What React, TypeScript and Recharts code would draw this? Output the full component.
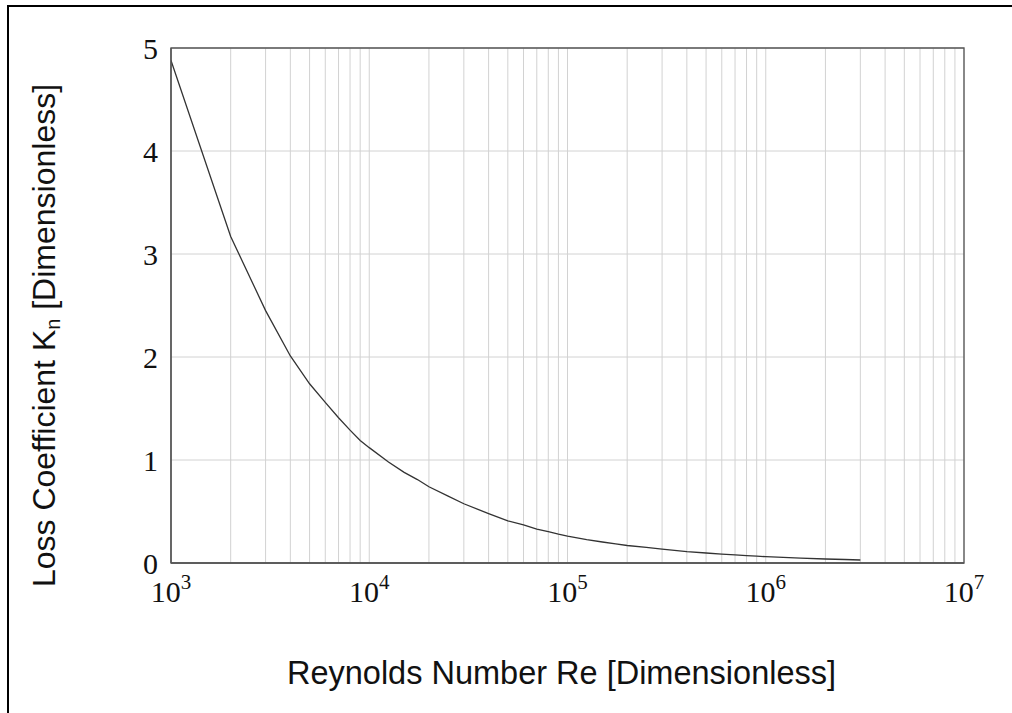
import React from 'react';
import { LineChart, Line, XAxis, YAxis, CartesianGrid, ReferenceArea } from 'recharts';

// Reynolds number samples and the loss coefficient
const reynolds = [
  1000, 2000, 3000, 4000, 5000, 6000, 7000, 8000, 9000,
  10000, 12500, 15000, 17500, 20000, 25000, 30000, 40000, 50000, 60000, 70000, 80000, 90000,
  100000, 125000, 150000, 175000, 200000, 250000, 300000, 400000, 500000, 600000, 700000, 800000, 900000,
  1000000, 1500000, 2000000, 2500000, 3000000,
];
const lossK = [
  4.88, 3.17, 2.45, 2.01, 1.74, 1.56, 1.41, 1.29, 1.19,
  1.12, 0.98, 0.88, 0.81, 0.74, 0.65, 0.575, 0.48, 0.41, 0.37, 0.33, 0.305, 0.28,
  0.26, 0.227, 0.204, 0.186, 0.17, 0.151, 0.135, 0.11, 0.097, 0.087, 0.079, 0.072, 0.066,
  0.061, 0.048, 0.039, 0.034, 0.029,
];

// log grid: every integer multiple in each decade
const xTicks = [
  1000, 2000, 3000, 4000, 5000, 6000, 7000, 8000, 9000,
  10000, 20000, 30000, 40000, 50000, 60000, 70000, 80000, 90000,
  100000, 200000, 300000, 400000, 500000, 600000, 700000, 800000, 900000,
  1000000, 2000000, 3000000, 4000000, 5000000, 6000000, 7000000, 8000000, 9000000,
  10000000,
];
const yTicks = [0, 1, 2, 3, 4, 5];

const data = reynolds.map((re, i) => ({ re, k: lossK[i] }));

const SERIF = '"Liberation Serif", "DejaVu Serif", serif';
const SANS = '"Liberation Sans", Arial, sans-serif';

const XTick = (props: any) => {
  const { x, y, payload } = props;
  const exp = Math.log10(payload.value);
  if (Math.abs(exp - Math.round(exp)) > 1e-6) return <g />;
  return (
    <text x={x} y={y + 39} textAnchor="middle" fontFamily={SERIF} fontSize={30} fill="#111">
      10
      <tspan dy={-13} fontSize={21}>
        {Math.round(exp)}
      </tspan>
    </text>
  );
};

const XLabel = (props: any) => {
  const vb = props.viewBox;
  return (
    <text
      x={vb.x + vb.width / 2 - 6}
      y={vb.y + 121}
      textAnchor="middle"
      fontFamily={SANS}
      fontSize={32.5}
      fill="#111"
    >
      Reynolds Number Re [Dimensionless]
    </text>
  );
};

const YLabel = (props: any) => {
  const vb = props.viewBox;
  const bx = vb.x - 56;
  const cy = vb.y + vb.height / 2 + 30;
  return (
    <text
      x={bx}
      y={cy}
      transform={`rotate(-90 ${bx} ${cy})`}
      textAnchor="middle"
      fontFamily={SANS}
      fontSize={32}
      fill="#111"
    >
      Loss Coefficient K
      <tspan fontSize={20} dy={5}>
        n
      </tspan>
      <tspan dy={-5}> [Dimensionless]</tspan>
    </text>
  );
};

export default function App() {
  return (
    <div style={{ position: 'absolute', left: 0, top: 0, width: 1012, height: 713, background: '#fff' }}>
      <div
        style={{
          position: 'absolute',
          left: 7,
          top: 5,
          width: 1005,
          height: 708,
          borderLeft: '2px solid #000',
          borderTop: '2px solid #000',
          boxSizing: 'border-box',
        }}
      />
      <div style={{ position: 'absolute', left: 0, top: 0 }}>
        <LineChart width={1012} height={713} data={data} margin={{ top: 48, right: 48, bottom: 90, left: 111 }}>
          <CartesianGrid stroke="#d2d2d2" strokeWidth={1} />
          <XAxis
            dataKey="re"
            type="number"
            scale="log"
            domain={[1000, 10000000]}
            ticks={xTicks}
            interval={0}
            allowDataOverflow
            height={60}
            tickLine={false}
            tickSize={0}
            tickMargin={0}
            axisLine={{ stroke: '#555', strokeWidth: 1.3 }}
            tick={<XTick />}
            label={{ content: <XLabel /> }}
          />
          <YAxis
            type="number"
            domain={[0, 5]}
            ticks={yTicks}
            interval={0}
            width={60}
            tickLine={false}
            tickSize={0}
            tickMargin={13}
            axisLine={{ stroke: '#555', strokeWidth: 1.3 }}
            tick={{ fontFamily: SERIF, fontSize: 30, fill: '#111' }}
            label={{ content: <YLabel /> }}
          />
          <ReferenceArea x1={1000} x2={10000000} y1={0} y2={5} fill="none" stroke="#555" strokeWidth={1.3} />
          <Line
            dataKey="k"
            type="linear"
            stroke="#333"
            strokeWidth={1.3}
            dot={false}
            isAnimationActive={false}
          />
        </LineChart>
      </div>
    </div>
  );
}
